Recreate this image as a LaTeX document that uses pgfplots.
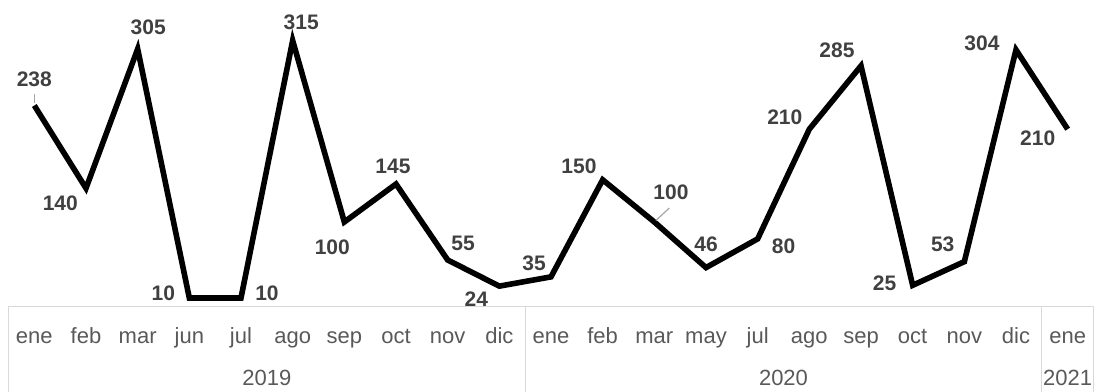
\documentclass[border=0pt]{standalone}
\usepackage{pgfplots}
\pgfplotsset{compat=1.18}
\usepackage{pgfplotstable}
\usepackage{fontspec}
\setmainfont{Liberation Sans}

\definecolor{labelgray}{HTML}{404040}
\definecolor{axisgray}{HTML}{595959}
\definecolor{gridgray}{HTML}{D9D9D9}
\definecolor{leadergray}{HTML}{A6A6A6}

% x = position, y = value, dx/dy = label offset from the point (bp)
\pgfplotstableread{
x  y    dx     dy
0  238  0      26.5
1  140  -25.7  -15
2  305  10.6   22
3  10   -26    5
4  10   26     5
5  315  8.5    18.5
6  100  -12    -25
7  145  -3     18
8  55   15.4   17
9  24   -23    -13
10 35   -17    14
11 150  -23.7  14
12 100  16.6   30
13 46   0      23.6
14 80   26     -7
15 210  -24.5  12
16 285  -24    16
17 25   -28    2
18 53   -21.6  17.7
19 304  -34    7
20 210  -30    -9
}\datatable

\tikzset{
  tablerule/.style={gridgray, line width=1.3bp},
  yearlabel/.style={anchor=base, text=axisgray,
    font=\fontsize{22bp}{26bp}\selectfont, yshift=-79bp},
}

\begin{document}
\begin{tikzpicture}
\useasboundingbox (-8.5bp,-85.6bp) rectangle (1085.5bp,306.4bp);
\begin{axis}[
  scale only axis,
  width=1085bp, height=295.4bp,
  xmin=-0.5, xmax=20.5,
  ymin=0, ymax=350,
  clip=false,
  axis line style={draw=none},
  ytick=\empty,
  xtick={0,...,20},
  xticklabels={ene,feb,mar,jun,jul,ago,sep,oct,nov,dic,ene,feb,mar,may,jul,ago,sep,oct,nov,dic,ene},
  major tick length=0pt,
  xticklabel style={anchor=base, yshift=-37bp, text=axisgray,
    font=\fontsize{22bp}{26bp}\selectfont},
  /pgf/number format/assume math mode=true,
]
\addplot[black, line width=5.6bp, line join=miter, mark=none,
  point meta=explicit,
  visualization depends on={\thisrow{dx} \as \dx},
  visualization depends on={\thisrow{dy} \as \dy},
  nodes near coords={\pgfmathprintnumber[fixed, precision=0]{\pgfplotspointmeta}},
  nodes near coords style={anchor=center, xshift=\dx bp, yshift=\dy bp,
    text=labelgray, font=\fontsize{21bp}{24bp}\selectfont\bfseries},
] table[x=x, y=y, meta=y] {\datatable};

% leader lines for the two displaced labels
\draw[leadergray, line width=1.2bp]
  ([yshift=3bp]axis cs:0,238) -- ([yshift=12bp]axis cs:0,238);
\draw[leadergray, line width=1.2bp]
  ([xshift=1.5bp, yshift=1.5bp]axis cs:12,100) -- ([xshift=15bp, yshift=14bp]axis cs:12,100);

% category table below the plot
\draw[tablerule] (axis cs:-0.5,0) -- (axis cs:20.5,0);
\draw[tablerule] (axis cs:-0.5,0) -- ([yshift=-100bp]axis cs:-0.5,0);
\draw[tablerule] (axis cs:9.5,0) -- ([yshift=-100bp]axis cs:9.5,0);
\draw[tablerule] (axis cs:19.5,0) -- ([yshift=-100bp]axis cs:19.5,0);
\draw[tablerule] (axis cs:20.5,0) -- ([yshift=-100bp]axis cs:20.5,0);
\node[yearlabel] at (axis cs:4.5,0) {2019};
\node[yearlabel] at (axis cs:14.5,0) {2020};
\node[yearlabel] at (axis cs:20,0) {2021};
\end{axis}
\end{tikzpicture}
\end{document}
